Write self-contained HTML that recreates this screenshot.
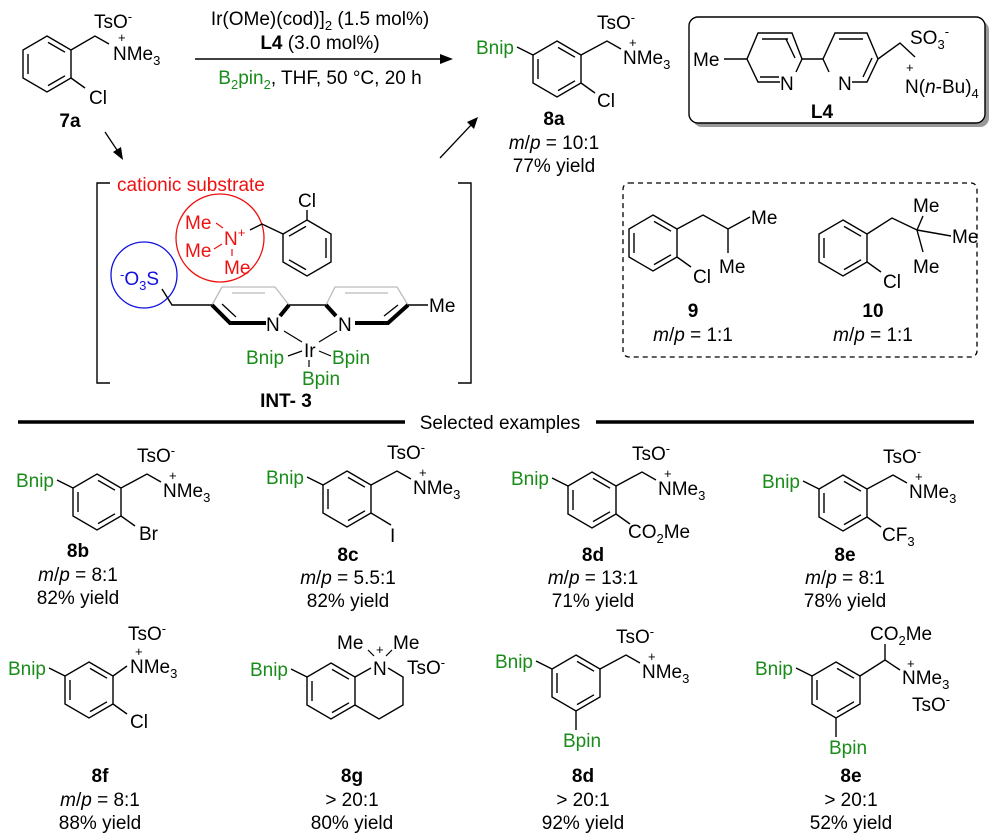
<!DOCTYPE html>
<html><head><meta charset="utf-8"><style>
html,body{margin:0;padding:0;background:#fff}
svg{display:block}
text{font-family:"Liberation Sans",Arial,sans-serif;font-size:19px;fill:#000}
.g{fill:#1a8c1a}.b{font-weight:bold}.r{fill:#ee1111}.bl{fill:#1111dd}
.s{font-size:13px}
</style></head><body>
<svg width="1000" height="837" viewBox="0 0 1000 837" xmlns="http://www.w3.org/2000/svg">
<defs>
<g id="ring" fill="none" stroke="#000" stroke-width="1.4">
<polygon points="0,-28 24,-14 24,14 0,28 -24,14 -24,-14"/>
<line x1="1" y1="-21.6" x2="18" y2="-11.8"/>
<line x1="-19" y1="-10" x2="-19" y2="10"/>
<line x1="18" y1="11.8" x2="1" y2="21.6"/>
</g>
<g id="core">
<use href="#ring"/>
<polyline points="-24,-14 -40,-22" fill="none" stroke="#000" stroke-width="1.4"/>
<text class="g" x="-43" y="-15" text-anchor="end">Bnip</text>
<polyline points="24,-14 50,-28 64,-20" fill="none" stroke="#000" stroke-width="1.4"/>
<text x="66" y="-5">NMe<tspan dy="5" class="s">3</tspan></text>
<text x="72" y="-22" class="s">+</text>
<text x="40" y="-40">TsO<tspan dy="-7" class="s">-</tspan></text>
</g>
</defs>

<!-- 7a -->
<g transform="translate(47,64)">
<use href="#ring"/>
<polyline points="24,-14 48,-28 62,-20" fill="none" stroke="#000" stroke-width="1.4"/>
<line x1="24" y1="14" x2="38" y2="24" stroke="#000" stroke-width="1.4"/>
<text x="66" y="-4">NMe<tspan dy="5" class="s">3</tspan></text>
<text x="71" y="-22" class="s">+</text>
<text x="47" y="-36">TsO<tspan dy="-7" class="s">-</tspan></text>
<text x="42" y="40">Cl</text>
</g>
<text class="b" x="70" y="127" text-anchor="middle">7a</text>

<!-- reaction arrow -->
<text x="320" y="25" text-anchor="middle">Ir(OMe)(cod)]<tspan dy="5" class="s">2</tspan><tspan dy="-5"> (1.5 mol%)</tspan></text>
<text x="320" y="49" text-anchor="middle"><tspan class="b">L4</tspan> (3.0 mol%)</text>
<line x1="195" y1="59" x2="445" y2="59" stroke="#000" stroke-width="1.4"/>
<polygon points="453,59 440,54 440,64" fill="#000"/>
<text x="320" y="84" text-anchor="middle"><tspan class="g">B<tspan dy="5" class="s">2</tspan><tspan dy="-5">pin</tspan><tspan dy="5" class="s">2</tspan></tspan><tspan dy="-5">, THF, 50 °C, 20 h</tspan></text>

<!-- diagonal arrows -->
<line x1="105" y1="132" x2="119" y2="153" stroke="#000" stroke-width="1.3"/>
<polygon points="123,160 113,152 121,147" fill="#000"/>
<line x1="440" y1="158" x2="472" y2="124" stroke="#000" stroke-width="1.3"/>
<polygon points="478,117 474,129 467,122" fill="#000"/>

<!-- 8a -->
<g transform="translate(557,69)">
<use href="#core"/>
<line x1="24" y1="14" x2="38" y2="24" stroke="#000" stroke-width="1.4"/>
<text x="40" y="38">Cl</text>
</g>
<text class="b" x="554" y="125" text-anchor="middle">8a</text>
<text x="554" y="149" text-anchor="middle"><tspan font-style="italic">m</tspan>/<tspan font-style="italic">p</tspan> = 10:1</text>
<text x="554" y="172" text-anchor="middle">77% yield</text>

<!-- L4 box -->
<rect x="693" y="21" width="296" height="106" rx="9" fill="#999"/>
<rect x="689" y="17" width="296" height="106" rx="9" fill="#fff" stroke="#000" stroke-width="1.4"/>
<g fill="none" stroke="#000" stroke-width="1.4">
<polyline points="780,82 758,82 747,59 758,33 792,33 802,59 796,72"/>
<line x1="762" y1="39" x2="788" y2="39"/><line x1="760" y1="77" x2="779" y2="77"/>
<line x1="795" y1="58" x2="786" y2="39"/>
<polyline points="829,72 823,59 835,33 867,33 878,59 867,82 852,82"/>
<line x1="839" y1="39" x2="863" y2="39"/><line x1="872" y1="58" x2="863" y2="77"/>
<line x1="802" y1="59" x2="823" y2="59"/>
<line x1="724" y1="59" x2="747" y2="59"/>
<polyline points="878,59 900,43 915,57"/>
</g>
<text x="780" y="90">N</text>
<text x="838" y="90">N</text>
<text x="693" y="66">Me</text>
<text x="910" y="44">SO<tspan dy="5" class="s">3</tspan><tspan dy="-13" class="s">-</tspan></text>
<text x="905" y="93">N(<tspan font-style="italic">n</tspan>-Bu)<tspan dy="5" class="s">4</tspan></text>
<text x="906" y="72" class="s">+</text>
<text class="b" x="822" y="118" text-anchor="middle">L4</text>

<!-- INT-3 -->
<g fill="none" stroke="#000" stroke-width="1.4">
<polyline points="110,183 97,183 97,383 110,383"/>
<polyline points="458,183 471,183 471,383 458,383"/>
</g>
<text class="r" x="117" y="191">cationic substrate</text>
<circle cx="220" cy="238" r="44" fill="none" stroke="#ee1111" stroke-width="1.3"/>
<circle cx="144" cy="275" r="33" fill="none" stroke="#1111dd" stroke-width="1.3"/>
<text class="r" x="185" y="229">Me</text>
<text class="r" x="185" y="257">Me</text>
<text class="r" x="224" y="274">Me</text>
<text class="r" x="224" y="245">N<tspan dy="-8" class="s">+</tspan></text>
<g stroke="#ee1111" stroke-width="1.2"><line x1="216" y1="223" x2="223" y2="228"/><line x1="214" y1="249" x2="222" y2="244"/><line x1="232" y1="249" x2="232" y2="256"/></g>
<g transform="translate(307,248)">
<g fill="none" stroke="#000" stroke-width="1.4">
<polygon points="0,-28 24,-14 24,14 0,28 -24,14 -24,-14"/>
<line x1="-1" y1="-21.6" x2="-18" y2="-11.8"/>
<line x1="19" y1="-10" x2="19" y2="10"/>
<line x1="-18" y1="11.8" x2="-1" y2="21.6"/>
<line x1="0" y1="-28" x2="0" y2="-38"/>
<polyline points="-24,-14 -45,-24 -57,-18"/>
</g>
<text x="-9" y="-41">Cl</text>
</g>
<text class="bl" x="120" y="285"><tspan dy="-6" class="s">-</tspan><tspan dy="6">O</tspan><tspan dy="5" class="s">3</tspan><tspan dy="-5">S</tspan></text>
<g fill="none" stroke="#bbb" stroke-width="1.3">
<polyline points="212,305 222,287 275,287 289,305"/>
<line x1="232" y1="293" x2="265" y2="293"/>
<polyline points="326,305 335,287 397,287 408,305"/>
<line x1="345" y1="293" x2="388" y2="293"/>
</g>
<g fill="none" stroke="#000">
<polyline points="162,289 172,305 212,305" stroke-width="1.4"/>
<polyline points="212,305 230,323 266,323" stroke-width="4"/>
<line x1="222" y1="304" x2="236" y2="317" stroke-width="1.3"/>
<line x1="289" y1="305" x2="280" y2="316" stroke-width="4"/>
<line x1="289" y1="305" x2="326" y2="305" stroke-width="1.4"/>
<line x1="326" y1="305" x2="336" y2="316" stroke-width="4"/>
<polyline points="355,323 388,323 408,305" stroke-width="4"/>
<line x1="384" y1="316" x2="398" y2="305" stroke-width="1.3"/>
<line x1="408" y1="305" x2="428" y2="305" stroke-width="1.4"/>
<g stroke-width="1.2"><line x1="284" y1="331" x2="302" y2="342"/><line x1="337" y1="331" x2="319" y2="342"/><line x1="288" y1="356" x2="302" y2="351"/><line x1="319" y1="351" x2="331" y2="356"/><line x1="309" y1="360" x2="309" y2="367"/></g>
</g>
<text x="266" y="331">N</text>
<text x="338" y="331">N</text>
<text x="429" y="312">Me</text>
<text x="304" y="357">Ir</text>
<text class="g" x="246" y="364">Bnip</text>
<text class="g" x="332" y="364">Bpin</text>
<text class="g" x="302" y="385">Bpin</text>
<text class="b" x="286" y="407" text-anchor="middle">INT- 3</text>

<!-- dashed box -->
<rect x="623" y="183" width="354" height="174" rx="6" fill="none" stroke="#000" stroke-width="1.3" stroke-dasharray="5,4"/>
<g transform="translate(653,243)">
<use href="#ring"/>
<polyline points="24,-14 50,-28 75,-14 97,-26" fill="none" stroke="#000" stroke-width="1.4"/>
<line x1="75" y1="-14" x2="75" y2="10" stroke="#000" stroke-width="1.4"/>
<line x1="24" y1="14" x2="38" y2="24" stroke="#000" stroke-width="1.4"/>
<text x="98" y="-19">Me</text>
<text x="66" y="30">Me</text>
<text x="40" y="40">Cl</text>
</g>
<text class="b" x="693" y="317" text-anchor="middle">9</text>
<text x="693" y="341" text-anchor="middle"><tspan font-style="italic">m</tspan>/<tspan font-style="italic">p</tspan> = 1:1</text>
<g transform="translate(843,248)">
<use href="#ring"/>
<polyline points="24,-14 49,-30 74,-18" fill="none" stroke="#000" stroke-width="1.4"/>
<line x1="74" y1="-18" x2="80" y2="-32" stroke="#000" stroke-width="1.4"/>
<line x1="74" y1="-18" x2="108" y2="-12" stroke="#000" stroke-width="1.4"/>
<line x1="74" y1="-18" x2="80" y2="4" stroke="#000" stroke-width="1.4"/>
<line x1="24" y1="14" x2="38" y2="24" stroke="#000" stroke-width="1.4"/>
<text x="70" y="-36">Me</text>
<text x="109" y="-5">Me</text>
<text x="70" y="25">Me</text>
<text x="40" y="40">Cl</text>
</g>
<text class="b" x="873" y="317" text-anchor="middle">10</text>
<text x="873" y="341" text-anchor="middle"><tspan font-style="italic">m</tspan>/<tspan font-style="italic">p</tspan> = 1:1</text>

<!-- separator -->
<line x1="18" y1="422" x2="405" y2="422" stroke="#000" stroke-width="3.5"/>
<line x1="596" y1="422" x2="974" y2="422" stroke="#000" stroke-width="3.5"/>
<text x="500" y="429" text-anchor="middle">Selected examples</text>

<!-- 8b -->
<g transform="translate(97,502)">
<use href="#core"/>
<line x1="24" y1="14" x2="38" y2="24" stroke="#000" stroke-width="1.4"/>
<text x="42" y="38">Br</text>
</g>
<text class="b" x="78" y="557" text-anchor="middle">8b</text>
<text x="78" y="581" text-anchor="middle"><tspan font-style="italic">m</tspan>/<tspan font-style="italic">p</tspan> = 8:1</text>
<text x="78" y="604" text-anchor="middle">82% yield</text>

<!-- 8c -->
<g transform="translate(347,499)">
<use href="#core"/>
<line x1="24" y1="14" x2="44" y2="26" stroke="#000" stroke-width="1.4"/>
<text x="43" y="43">I</text>
</g>
<text class="b" x="348" y="561" text-anchor="middle">8c</text>
<text x="348" y="584" text-anchor="middle"><tspan font-style="italic">m</tspan>/<tspan font-style="italic">p</tspan> = 5.5:1</text>
<text x="348" y="607" text-anchor="middle">82% yield</text>

<!-- 8d -->
<g transform="translate(592,500)">
<use href="#core"/>
<line x1="24" y1="14" x2="38" y2="24" stroke="#000" stroke-width="1.4"/>
<text x="36" y="38">CO<tspan dy="5" class="s">2</tspan><tspan dy="-5">Me</tspan></text>
</g>
<text class="b" x="593" y="561" text-anchor="middle">8d</text>
<text x="593" y="584" text-anchor="middle"><tspan font-style="italic">m</tspan>/<tspan font-style="italic">p</tspan> = 13:1</text>
<text x="593" y="607" text-anchor="middle">71% yield</text>

<!-- 8e -->
<g transform="translate(843,503)">
<use href="#core"/>
<line x1="24" y1="14" x2="38" y2="24" stroke="#000" stroke-width="1.4"/>
<text x="39" y="38">CF<tspan dy="5" class="s">3</tspan></text>
</g>
<text class="b" x="845" y="561" text-anchor="middle">8e</text>
<text x="845" y="584" text-anchor="middle"><tspan font-style="italic">m</tspan>/<tspan font-style="italic">p</tspan> = 8:1</text>
<text x="845" y="607" text-anchor="middle">78% yield</text>

<!-- 8f -->
<g transform="translate(89,690)">
<use href="#ring"/>
<polyline points="-24,-14 -40,-22" fill="none" stroke="#000" stroke-width="1.4"/>
<text class="g" x="-43" y="-15" text-anchor="end">Bnip</text>
<line x1="24" y1="-14" x2="38" y2="-24" stroke="#000" stroke-width="1.4"/>
<text x="41" y="-17">NMe<tspan dy="5" class="s">3</tspan></text>
<text x="46" y="-34" class="s">+</text>
<text x="39" y="-50">TsO<tspan dy="-7" class="s">-</tspan></text>
<line x1="24" y1="14" x2="38" y2="24" stroke="#000" stroke-width="1.4"/>
<text x="41" y="38">Cl</text>
</g>
<text class="b" x="100" y="782" text-anchor="middle">8f</text>
<text x="100" y="806" text-anchor="middle"><tspan font-style="italic">m</tspan>/<tspan font-style="italic">p</tspan> = 8:1</text>
<text x="100" y="829" text-anchor="middle">88% yield</text>

<!-- 8g -->
<g transform="translate(331,691)">
<use href="#ring"/>
<polyline points="-24,-14 -40,-22" fill="none" stroke="#000" stroke-width="1.4"/>
<text class="g" x="-43" y="-15" text-anchor="end">Bnip</text>
<polyline points="24,-14 40,-23" fill="none" stroke="#000" stroke-width="1.4"/>
<polyline points="57,-23 72,-14 72,14 48,28 24,14" fill="none" stroke="#000" stroke-width="1.4"/>
<line x1="37" y1="-41" x2="43" y2="-35" stroke="#000" stroke-width="1.2"/>
<line x1="61" y1="-41" x2="55" y2="-35" stroke="#000" stroke-width="1.2"/>
<text x="42" y="-16">N</text>
<text x="45" y="-37" class="s">+</text>
<text x="6" y="-42">Me</text>
<text x="62" y="-42">Me</text>
<text x="76" y="-17">TsO<tspan dy="-7" class="s">-</tspan></text>
</g>
<text class="b" x="352" y="782" text-anchor="middle">8g</text>
<text x="352" y="806" text-anchor="middle">&gt; 20:1</text>
<text x="352" y="829" text-anchor="middle">80% yield</text>

<!-- 8d (2) -->
<g transform="translate(576,683)">
<use href="#core"/>
<line x1="0" y1="28" x2="0" y2="47" stroke="#000" stroke-width="1.4"/>
<text class="g" x="6" y="64" text-anchor="middle">Bpin</text>
</g>
<text class="b" x="583" y="782" text-anchor="middle">8d</text>
<text x="583" y="806" text-anchor="middle">&gt; 20:1</text>
<text x="583" y="829" text-anchor="middle">92% yield</text>

<!-- 8e (2) -->
<g transform="translate(836,690)">
<use href="#ring"/>
<polyline points="-24,-14 -40,-22" fill="none" stroke="#000" stroke-width="1.4"/>
<text class="g" x="-43" y="-15" text-anchor="end">Bnip</text>
<polyline points="24,-14 49,-30 64,-20" fill="none" stroke="#000" stroke-width="1.4"/>
<line x1="49" y1="-30" x2="49" y2="-46" stroke="#000" stroke-width="1.4"/>
<text x="34" y="-50">CO<tspan dy="5" class="s">2</tspan><tspan dy="-5">Me</tspan></text>
<text x="66" y="-6">NMe<tspan dy="5" class="s">3</tspan></text>
<text x="71" y="-22" class="s">+</text>
<text x="76" y="21">TsO<tspan dy="-7" class="s">-</tspan></text>
<line x1="0" y1="28" x2="0" y2="47" stroke="#000" stroke-width="1.4"/>
<text class="g" x="12" y="64" text-anchor="middle">Bpin</text>
</g>
<text class="b" x="851" y="782" text-anchor="middle">8e</text>
<text x="851" y="806" text-anchor="middle">&gt; 20:1</text>
<text x="851" y="829" text-anchor="middle">52% yield</text>
</svg>
</body></html>
